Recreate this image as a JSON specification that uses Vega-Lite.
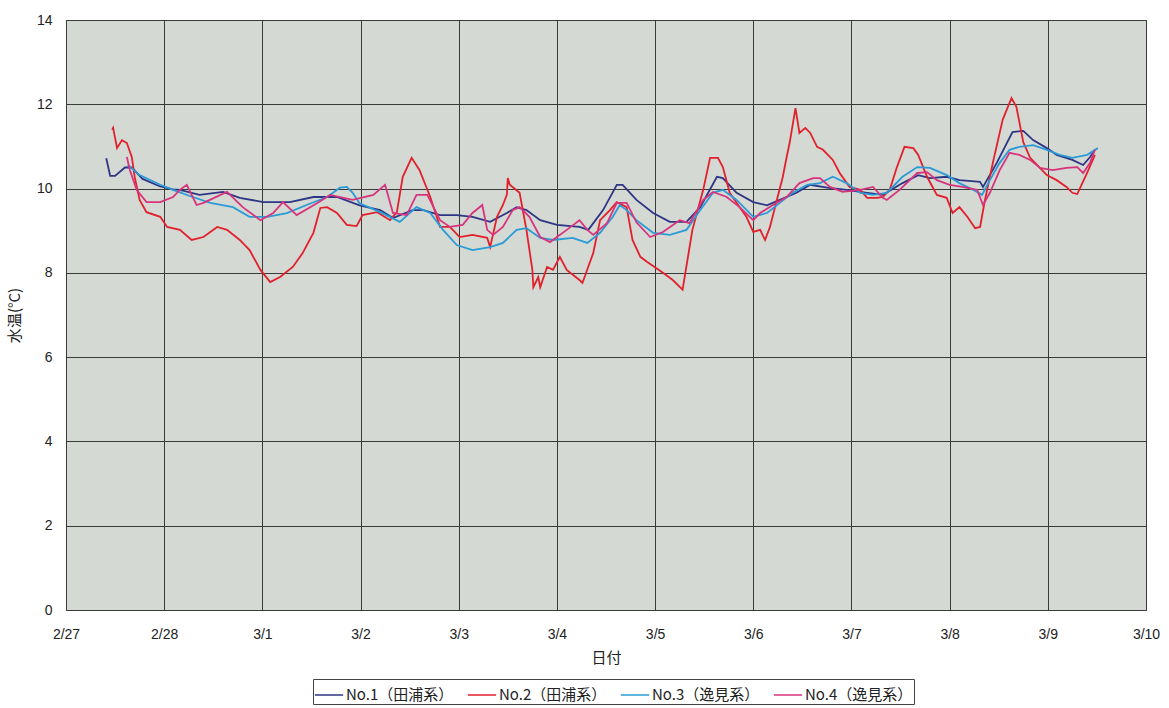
{
  "$schema": "https://vega.github.io/schema/vega-lite/v6.json",
  "width": 1080,
  "height": 590,
  "autosize": {"type": "none"},
  "padding": {"left": 66, "top": 20, "right": 23, "bottom": 98},
  "background": "white",
  "config": {
    "view": {"fill": "#d4d9d3", "stroke": "#333333", "strokeWidth": 1},
    "font": "Liberation Sans",
    "axis": {"labelFont": "Liberation Sans", "titleFont": "Noto Sans CJK JP", "labelFontSize": 14, "titleFontSize": 15, "labelColor": "#222", "titleColor": "#222", "titleFontWeight": "normal", "gridColor": "#3a3a3a", "gridOpacity": 1, "gridWidth": 1, "domain": false, "ticks": false}
  },
  "data": {"values": [
    {"s":"No.1（田浦系）","d":0.41,"v":10.72},{"s":"No.1（田浦系）","d":0.45,"v":10.3},{"s":"No.1（田浦系）","d":0.5,"v":10.3},{"s":"No.1（田浦系）","d":0.6,"v":10.5},{"s":"No.1（田浦系）","d":0.67,"v":10.5},{"s":"No.1（田浦系）","d":0.78,"v":10.23},{"s":"No.1（田浦系）","d":0.96,"v":10.05},{"s":"No.1（田浦系）","d":1.09,"v":9.98},{"s":"No.1（田浦系）","d":1.16,"v":9.97},{"s":"No.1（田浦系）","d":1.36,"v":9.85},{"s":"No.1（田浦系）","d":1.6,"v":9.92},{"s":"No.1（田浦系）","d":1.77,"v":9.78},{"s":"No.1（田浦系）","d":2.01,"v":9.68},{"s":"No.1（田浦系）","d":2.28,"v":9.68},{"s":"No.1（田浦系）","d":2.52,"v":9.8},{"s":"No.1（田浦系）","d":2.76,"v":9.8},{"s":"No.1（田浦系）","d":2.99,"v":9.6},{"s":"No.1（田浦系）","d":3.2,"v":9.49},{"s":"No.1（田浦系）","d":3.33,"v":9.3},{"s":"No.1（田浦系）","d":3.53,"v":9.49},{"s":"No.1（田浦系）","d":3.64,"v":9.49},{"s":"No.1（田浦系）","d":3.81,"v":9.37},{"s":"No.1（田浦系）","d":3.98,"v":9.37},{"s":"No.1（田浦系）","d":4.14,"v":9.33},{"s":"No.1（田浦系）","d":4.32,"v":9.21},{"s":"No.1（田浦系）","d":4.49,"v":9.42},{"s":"No.1（田浦系）","d":4.59,"v":9.56},{"s":"No.1（田浦系）","d":4.69,"v":9.49},{"s":"No.1（田浦系）","d":4.83,"v":9.25},{"s":"No.1（田浦系）","d":5.0,"v":9.14},{"s":"No.1（田浦系）","d":5.23,"v":9.09},{"s":"No.1（田浦系）","d":5.32,"v":9.02},{"s":"No.1（田浦系）","d":5.47,"v":9.49},{"s":"No.1（田浦系）","d":5.61,"v":10.09},{"s":"No.1（田浦系）","d":5.67,"v":10.09},{"s":"No.1（田浦系）","d":5.81,"v":9.73},{"s":"No.1（田浦系）","d":5.98,"v":9.42},{"s":"No.1（田浦系）","d":6.15,"v":9.21},{"s":"No.1（田浦系）","d":6.32,"v":9.21},{"s":"No.1（田浦系）","d":6.46,"v":9.56},{"s":"No.1（田浦系）","d":6.63,"v":10.28},{"s":"No.1（田浦系）","d":6.69,"v":10.25},{"s":"No.1（田浦系）","d":6.83,"v":9.9},{"s":"No.1（田浦系）","d":7.0,"v":9.68},{"s":"No.1（田浦系）","d":7.14,"v":9.6},{"s":"No.1（田浦系）","d":7.27,"v":9.73},{"s":"No.1（田浦系）","d":7.44,"v":9.9},{"s":"No.1（田浦系）","d":7.58,"v":10.09},{"s":"No.1（田浦系）","d":7.75,"v":10.02},{"s":"No.1（田浦系）","d":7.95,"v":9.97},{"s":"No.1（田浦系）","d":8.16,"v":9.9},{"s":"No.1（田浦系）","d":8.32,"v":9.85},{"s":"No.1（田浦系）","d":8.52,"v":10.13},{"s":"No.1（田浦系）","d":8.68,"v":10.32},{"s":"No.1（田浦系）","d":8.8,"v":10.25},{"s":"No.1（田浦系）","d":8.97,"v":10.28},{"s":"No.1（田浦系）","d":9.1,"v":10.2},{"s":"No.1（田浦系）","d":9.31,"v":10.16},{"s":"No.1（田浦系）","d":9.34,"v":10.04},{"s":"No.1（田浦系）","d":9.48,"v":10.61},{"s":"No.1（田浦系）","d":9.64,"v":11.34},{"s":"No.1（田浦系）","d":9.75,"v":11.37},{"s":"No.1（田浦系）","d":9.85,"v":11.15},{"s":"No.1（田浦系）","d":9.99,"v":10.96},{"s":"No.1（田浦系）","d":10.09,"v":10.8},{"s":"No.1（田浦系）","d":10.25,"v":10.68},{"s":"No.1（田浦系）","d":10.36,"v":10.56},{"s":"No.1（田浦系）","d":10.43,"v":10.75},{"s":"No.1（田浦系）","d":10.48,"v":10.92},
    {"s":"No.2（田浦系）","d":0.47,"v":11.39},{"s":"No.2（田浦系）","d":0.48,"v":11.44},{"s":"No.2（田浦系）","d":0.52,"v":10.96},{"s":"No.2（田浦系）","d":0.57,"v":11.15},{"s":"No.2（田浦系）","d":0.62,"v":11.08},{"s":"No.2（田浦系）","d":0.67,"v":10.75},{"s":"No.2（田浦系）","d":0.7,"v":10.27},{"s":"No.2（田浦系）","d":0.75,"v":9.73},{"s":"No.2（田浦系）","d":0.82,"v":9.44},{"s":"No.2（田浦系）","d":0.96,"v":9.33},{"s":"No.2（田浦系）","d":1.03,"v":9.09},{"s":"No.2（田浦系）","d":1.16,"v":9.02},{"s":"No.2（田浦系）","d":1.28,"v":8.78},{"s":"No.2（田浦系）","d":1.4,"v":8.85},{"s":"No.2（田浦系）","d":1.54,"v":9.09},{"s":"No.2（田浦系）","d":1.64,"v":9.02},{"s":"No.2（田浦系）","d":1.77,"v":8.78},{"s":"No.2（田浦系）","d":1.87,"v":8.54},{"s":"No.2（田浦系）","d":1.98,"v":8.07},{"s":"No.2（田浦系）","d":2.08,"v":7.78},{"s":"No.2（田浦系）","d":2.18,"v":7.9},{"s":"No.2（田浦系）","d":2.31,"v":8.14},{"s":"No.2（田浦系）","d":2.41,"v":8.47},{"s":"No.2（田浦系）","d":2.52,"v":8.95},{"s":"No.2（田浦系）","d":2.59,"v":9.54},{"s":"No.2（田浦系）","d":2.66,"v":9.56},{"s":"No.2（田浦系）","d":2.76,"v":9.42},{"s":"No.2（田浦系）","d":2.86,"v":9.14},{"s":"No.2（田浦系）","d":2.96,"v":9.11},{"s":"No.2（田浦系）","d":3.02,"v":9.37},{"s":"No.2（田浦系）","d":3.17,"v":9.44},{"s":"No.2（田浦系）","d":3.3,"v":9.25},{"s":"No.2（田浦系）","d":3.37,"v":9.44},{"s":"No.2（田浦系）","d":3.43,"v":10.28},{"s":"No.2（田浦系）","d":3.52,"v":10.73},{"s":"No.2（田浦系）","d":3.6,"v":10.44},{"s":"No.2（田浦系）","d":3.71,"v":9.8},{"s":"No.2（田浦系）","d":3.81,"v":9.09},{"s":"No.2（田浦系）","d":3.91,"v":9.09},{"s":"No.2（田浦系）","d":4.01,"v":8.85},{"s":"No.2（田浦系）","d":4.14,"v":8.9},{"s":"No.2（田浦系）","d":4.29,"v":8.83},{"s":"No.2（田浦系）","d":4.32,"v":8.61},{"s":"No.2（田浦系）","d":4.39,"v":9.33},{"s":"No.2（田浦系）","d":4.45,"v":9.61},{"s":"No.2（田浦系）","d":4.49,"v":9.85},{"s":"No.2（田浦系）","d":4.5,"v":10.25},{"s":"No.2（田浦系）","d":4.52,"v":10.09},{"s":"No.2（田浦系）","d":4.62,"v":9.9},{"s":"No.2（田浦系）","d":4.69,"v":9.02},{"s":"No.2（田浦系）","d":4.75,"v":8.07},{"s":"No.2（田浦系）","d":4.76,"v":7.66},{"s":"No.2（田浦系）","d":4.81,"v":7.9},{"s":"No.2（田浦系）","d":4.83,"v":7.66},{"s":"No.2（田浦系）","d":4.9,"v":8.14},{"s":"No.2（田浦系）","d":4.96,"v":8.07},{"s":"No.2（田浦系）","d":5.03,"v":8.38},{"s":"No.2（田浦系）","d":5.1,"v":8.07},{"s":"No.2（田浦系）","d":5.23,"v":7.83},{"s":"No.2（田浦系）","d":5.26,"v":7.76},{"s":"No.2（田浦系）","d":5.37,"v":8.47},{"s":"No.2（田浦系）","d":5.44,"v":9.25},{"s":"No.2（田浦系）","d":5.54,"v":9.49},{"s":"No.2（田浦系）","d":5.61,"v":9.68},{"s":"No.2（田浦系）","d":5.71,"v":9.56},{"s":"No.2（田浦系）","d":5.77,"v":8.78},{"s":"No.2（田浦系）","d":5.85,"v":8.38},{"s":"No.2（田浦系）","d":5.92,"v":8.26},{"s":"No.2（田浦系）","d":6.08,"v":8.0},{"s":"No.2（田浦系）","d":6.18,"v":7.83},{"s":"No.2（田浦系）","d":6.28,"v":7.6},{"s":"No.2（田浦系）","d":6.38,"v":9.02},{"s":"No.2（田浦系）","d":6.49,"v":9.97},{"s":"No.2（田浦系）","d":6.56,"v":10.73},{"s":"No.2（田浦系）","d":6.64,"v":10.73},{"s":"No.2（田浦系）","d":6.69,"v":10.51},{"s":"No.2（田浦系）","d":6.76,"v":9.9},{"s":"No.2（田浦系）","d":6.86,"v":9.56},{"s":"No.2（田浦系）","d":6.93,"v":9.33},{"s":"No.2（田浦系）","d":7.0,"v":8.97},{"s":"No.2（田浦系）","d":7.07,"v":9.02},{"s":"No.2（田浦系）","d":7.12,"v":8.78},{"s":"No.2（田浦系）","d":7.17,"v":9.09},{"s":"No.2（田浦系）","d":7.24,"v":9.73},{"s":"No.2（田浦系）","d":7.3,"v":10.27},{"s":"No.2（田浦系）","d":7.34,"v":10.75},{"s":"No.2（田浦系）","d":7.37,"v":11.08},{"s":"No.2（田浦系）","d":7.43,"v":11.91},{"s":"No.2（田浦系）","d":7.47,"v":11.32},{"s":"No.2（田浦系）","d":7.53,"v":11.44},{"s":"No.2（田浦系）","d":7.58,"v":11.32},{"s":"No.2（田浦系）","d":7.65,"v":10.99},{"s":"No.2（田浦系）","d":7.71,"v":10.92},{"s":"No.2（田浦系）","d":7.81,"v":10.68},{"s":"No.2（田浦系）","d":7.88,"v":10.37},{"s":"No.2（田浦系）","d":7.98,"v":10.04},{"s":"No.2（田浦系）","d":8.09,"v":9.97},{"s":"No.2（田浦系）","d":8.16,"v":9.78},{"s":"No.2（田浦系）","d":8.26,"v":9.78},{"s":"No.2（田浦系）","d":8.32,"v":9.8},{"s":"No.2（田浦系）","d":8.39,"v":9.97},{"s":"No.2（田浦系）","d":8.46,"v":10.49},{"s":"No.2（田浦系）","d":8.54,"v":10.99},{"s":"No.2（田浦系）","d":8.63,"v":10.96},{"s":"No.2（田浦系）","d":8.68,"v":10.8},{"s":"No.2（田浦系）","d":8.77,"v":10.28},{"s":"No.2（田浦系）","d":8.87,"v":9.85},{"s":"No.2（田浦系）","d":8.97,"v":9.78},{"s":"No.2（田浦系）","d":9.03,"v":9.42},{"s":"No.2（田浦系）","d":9.1,"v":9.56},{"s":"No.2（田浦系）","d":9.18,"v":9.33},{"s":"No.2（田浦系）","d":9.26,"v":9.06},{"s":"No.2（田浦系）","d":9.31,"v":9.09},{"s":"No.2（田浦系）","d":9.36,"v":9.73},{"s":"No.2（田浦系）","d":9.44,"v":10.61},{"s":"No.2（田浦系）","d":9.54,"v":11.63},{"s":"No.2（田浦系）","d":9.63,"v":12.15},{"s":"No.2（田浦系）","d":9.68,"v":11.94},{"s":"No.2（田浦系）","d":9.75,"v":11.1},{"s":"No.2（田浦系）","d":9.82,"v":10.73},{"s":"No.2（田浦系）","d":9.89,"v":10.56},{"s":"No.2（田浦系）","d":9.99,"v":10.32},{"s":"No.2（田浦系）","d":10.09,"v":10.2},{"s":"No.2（田浦系）","d":10.19,"v":10.04},{"s":"No.2（田浦系）","d":10.25,"v":9.9},{"s":"No.2（田浦系）","d":10.3,"v":9.87},{"s":"No.2（田浦系）","d":10.4,"v":10.37},{"s":"No.2（田浦系）","d":10.48,"v":10.8},
    {"s":"No.3（逸見系）","d":0.63,"v":10.56},{"s":"No.3（逸見系）","d":0.75,"v":10.32},{"s":"No.3（逸見系）","d":0.96,"v":10.09},{"s":"No.3（逸見系）","d":1.09,"v":9.97},{"s":"No.3（逸見系）","d":1.29,"v":9.8},{"s":"No.3（逸見系）","d":1.47,"v":9.66},{"s":"No.3（逸見系）","d":1.7,"v":9.56},{"s":"No.3（逸見系）","d":1.87,"v":9.33},{"s":"No.3（逸見系）","d":2.05,"v":9.33},{"s":"No.3（逸見系）","d":2.25,"v":9.42},{"s":"No.3（逸見系）","d":2.45,"v":9.61},{"s":"No.3（逸見系）","d":2.66,"v":9.8},{"s":"No.3（逸見系）","d":2.79,"v":10.02},{"s":"No.3（逸見系）","d":2.86,"v":10.04},{"s":"No.3（逸見系）","d":2.92,"v":9.9},{"s":"No.3（逸見系）","d":2.99,"v":9.65},{"s":"No.3（逸見系）","d":3.2,"v":9.44},{"s":"No.3（逸見系）","d":3.4,"v":9.21},{"s":"No.3（逸見系）","d":3.57,"v":9.56},{"s":"No.3（逸見系）","d":3.71,"v":9.42},{"s":"No.3（逸見系）","d":3.84,"v":9.02},{"s":"No.3（逸見系）","d":3.98,"v":8.66},{"s":"No.3（逸見系）","d":4.14,"v":8.54},{"s":"No.3（逸見系）","d":4.32,"v":8.61},{"s":"No.3（逸見系）","d":4.45,"v":8.71},{"s":"No.3（逸見系）","d":4.59,"v":9.02},{"s":"No.3（逸見系）","d":4.69,"v":9.06},{"s":"No.3（逸見系）","d":4.83,"v":8.83},{"s":"No.3（逸見系）","d":4.96,"v":8.78},{"s":"No.3（逸見系）","d":5.16,"v":8.83},{"s":"No.3（逸見系）","d":5.31,"v":8.71},{"s":"No.3（逸見系）","d":5.44,"v":8.95},{"s":"No.3（逸見系）","d":5.57,"v":9.33},{"s":"No.3（逸見系）","d":5.64,"v":9.61},{"s":"No.3（逸見系）","d":5.71,"v":9.49},{"s":"No.3（逸見系）","d":5.81,"v":9.25},{"s":"No.3（逸見系）","d":5.98,"v":8.95},{"s":"No.3（逸見系）","d":6.15,"v":8.9},{"s":"No.3（逸見系）","d":6.32,"v":9.02},{"s":"No.3（逸見系）","d":6.46,"v":9.49},{"s":"No.3（逸見系）","d":6.59,"v":9.9},{"s":"No.3（逸見系）","d":6.69,"v":9.97},{"s":"No.3（逸見系）","d":6.83,"v":9.73},{"s":"No.3（逸見系）","d":7.0,"v":9.33},{"s":"No.3（逸見系）","d":7.14,"v":9.42},{"s":"No.3（逸見系）","d":7.27,"v":9.66},{"s":"No.3（逸見系）","d":7.4,"v":9.9},{"s":"No.3（逸見系）","d":7.55,"v":10.09},{"s":"No.3（逸見系）","d":7.68,"v":10.13},{"s":"No.3（逸見系）","d":7.81,"v":10.28},{"s":"No.3（逸見系）","d":7.95,"v":10.13},{"s":"No.3（逸見系）","d":8.09,"v":9.9},{"s":"No.3（逸見系）","d":8.22,"v":9.85},{"s":"No.3（逸見系）","d":8.36,"v":9.9},{"s":"No.3（逸見系）","d":8.52,"v":10.28},{"s":"No.3（逸見系）","d":8.67,"v":10.51},{"s":"No.3（逸見系）","d":8.8,"v":10.49},{"s":"No.3（逸見系）","d":8.97,"v":10.32},{"s":"No.3（逸見系）","d":9.1,"v":10.13},{"s":"No.3（逸見系）","d":9.24,"v":9.97},{"s":"No.3（逸見系）","d":9.33,"v":9.85},{"s":"No.3（逸見系）","d":9.41,"v":10.2},{"s":"No.3（逸見系）","d":9.51,"v":10.61},{"s":"No.3（逸見系）","d":9.61,"v":10.92},{"s":"No.3（逸見系）","d":9.71,"v":10.99},{"s":"No.3（逸見系）","d":9.85,"v":11.03},{"s":"No.3（逸見系）","d":9.99,"v":10.92},{"s":"No.3（逸見系）","d":10.12,"v":10.8},{"s":"No.3（逸見系）","d":10.25,"v":10.73},{"s":"No.3（逸見系）","d":10.4,"v":10.8},{"s":"No.3（逸見系）","d":10.51,"v":10.96},
    {"s":"No.4（逸見系）","d":0.62,"v":10.75},{"s":"No.4（逸見系）","d":0.65,"v":10.44},{"s":"No.4（逸見系）","d":0.72,"v":9.97},{"s":"No.4（逸見系）","d":0.82,"v":9.68},{"s":"No.4（逸見系）","d":0.96,"v":9.68},{"s":"No.4（逸見系）","d":1.09,"v":9.8},{"s":"No.4（逸見系）","d":1.16,"v":9.97},{"s":"No.4（逸見系）","d":1.23,"v":10.09},{"s":"No.4（逸見系）","d":1.33,"v":9.61},{"s":"No.4（逸見系）","d":1.4,"v":9.66},{"s":"No.4（逸見系）","d":1.64,"v":9.92},{"s":"No.4（逸見系）","d":1.8,"v":9.56},{"s":"No.4（逸見系）","d":1.98,"v":9.25},{"s":"No.4（逸見系）","d":2.11,"v":9.42},{"s":"No.4（逸見系）","d":2.21,"v":9.68},{"s":"No.4（逸見系）","d":2.35,"v":9.37},{"s":"No.4（逸見系）","d":2.56,"v":9.66},{"s":"No.4（逸見系）","d":2.69,"v":9.85},{"s":"No.4（逸見系）","d":2.92,"v":9.73},{"s":"No.4（逸見系）","d":3.13,"v":9.85},{"s":"No.4（逸見系）","d":3.25,"v":10.09},{"s":"No.4（逸見系）","d":3.33,"v":9.42},{"s":"No.4（逸見系）","d":3.47,"v":9.37},{"s":"No.4（逸見系）","d":3.57,"v":9.85},{"s":"No.4（逸見系）","d":3.68,"v":9.85},{"s":"No.4（逸見系）","d":3.81,"v":9.25},{"s":"No.4（逸見系）","d":3.91,"v":9.09},{"s":"No.4（逸見系）","d":4.04,"v":9.14},{"s":"No.4（逸見系）","d":4.14,"v":9.42},{"s":"No.4（逸見系）","d":4.24,"v":9.61},{"s":"No.4（逸見系）","d":4.29,"v":9.02},{"s":"No.4（逸見系）","d":4.35,"v":8.9},{"s":"No.4（逸見系）","d":4.45,"v":9.09},{"s":"No.4（逸見系）","d":4.55,"v":9.49},{"s":"No.4（逸見系）","d":4.62,"v":9.56},{"s":"No.4（逸見系）","d":4.72,"v":9.33},{"s":"No.4（逸見系）","d":4.83,"v":8.85},{"s":"No.4（逸見系）","d":4.93,"v":8.73},{"s":"No.4（逸見系）","d":5.1,"v":9.02},{"s":"No.4（逸見系）","d":5.23,"v":9.25},{"s":"No.4（逸見系）","d":5.31,"v":9.02},{"s":"No.4（逸見系）","d":5.37,"v":8.9},{"s":"No.4（逸見系）","d":5.51,"v":9.18},{"s":"No.4（逸見系）","d":5.61,"v":9.66},{"s":"No.4（逸見系）","d":5.71,"v":9.66},{"s":"No.4（逸見系）","d":5.81,"v":9.2},{"s":"No.4（逸見系）","d":5.95,"v":8.85},{"s":"No.4（逸見系）","d":6.08,"v":8.97},{"s":"No.4（逸見系）","d":6.25,"v":9.25},{"s":"No.4（逸見系）","d":6.35,"v":9.18},{"s":"No.4（逸見系）","d":6.49,"v":9.73},{"s":"No.4（逸見系）","d":6.59,"v":9.92},{"s":"No.4（逸見系）","d":6.73,"v":9.8},{"s":"No.4（逸見系）","d":6.86,"v":9.56},{"s":"No.4（逸見系）","d":7.0,"v":9.25},{"s":"No.4（逸見系）","d":7.07,"v":9.42},{"s":"No.4（逸見系）","d":7.2,"v":9.61},{"s":"No.4（逸見系）","d":7.34,"v":9.8},{"s":"No.4（逸見系）","d":7.47,"v":10.13},{"s":"No.4（逸見系）","d":7.61,"v":10.25},{"s":"No.4（逸見系）","d":7.68,"v":10.25},{"s":"No.4（逸見系）","d":7.78,"v":10.04},{"s":"No.4（逸見系）","d":7.91,"v":9.92},{"s":"No.4（逸見系）","d":8.09,"v":9.97},{"s":"No.4（逸見系）","d":8.22,"v":10.04},{"s":"No.4（逸見系）","d":8.32,"v":9.78},{"s":"No.4（逸見系）","d":8.36,"v":9.73},{"s":"No.4（逸見系）","d":8.49,"v":9.97},{"s":"No.4（逸見系）","d":8.67,"v":10.37},{"s":"No.4（逸見系）","d":8.77,"v":10.39},{"s":"No.4（逸見系）","d":8.87,"v":10.2},{"s":"No.4（逸見系）","d":9.0,"v":10.09},{"s":"No.4（逸見系）","d":9.13,"v":10.04},{"s":"No.4（逸見系）","d":9.28,"v":9.97},{"s":"No.4（逸見系）","d":9.34,"v":9.61},{"s":"No.4（逸見系）","d":9.41,"v":9.9},{"s":"No.4（逸見系）","d":9.51,"v":10.44},{"s":"No.4（逸見系）","d":9.61,"v":10.85},{"s":"No.4（逸見系）","d":9.71,"v":10.8},{"s":"No.4（逸見系）","d":9.82,"v":10.68},{"s":"No.4（逸見系）","d":9.92,"v":10.49},{"s":"No.4（逸見系）","d":10.05,"v":10.44},{"s":"No.4（逸見系）","d":10.19,"v":10.49},{"s":"No.4（逸見系）","d":10.3,"v":10.51},{"s":"No.4（逸見系）","d":10.36,"v":10.37},{"s":"No.4（逸見系）","d":10.43,"v":10.61},{"s":"No.4（逸見系）","d":10.48,"v":10.92}
  ]},
  "mark": {"type": "line", "strokeWidth": 1.8, "interpolate": "linear"},
  "encoding": {
    "x": {"field": "d", "type": "quantitative", "title": "日付",
      "scale": {"domain": [0, 11], "nice": false, "zero": false},
      "axis": {"values": [0,1,2,3,4,5,6,7,8,9,10,11], "labelExpr": "['2/27','2/28','3/1','3/2','3/3','3/4','3/5','3/6','3/7','3/8','3/9','3/10'][datum.value]", "labelPadding": 17, "titlePadding": 9, "labelFlush": false}},
    "y": {"field": "v", "type": "quantitative", "title": "水温(°C)",
      "scale": {"domain": [0, 14], "nice": false},
      "axis": {"values": [0,2,4,6,8,10,12,14], "labelPadding": 14, "titlePadding": 14}},
    "color": {"field": "s", "type": "nominal", "title": null,
      "scale": {"domain": ["No.1（田浦系）","No.2（田浦系）","No.3（逸見系）","No.4（逸見系）"], "range": ["#2d3585","#e2202c","#2b9bd6","#d8347e"]},
      "legend": {"orient": "none", "legendX": 247, "legendY": 659, "direction": "horizontal", "symbolType": "stroke", "symbolSize": 800, "symbolStrokeWidth": 1.5, "labelFont": "Noto Sans CJK JP", "labelFontSize": 15, "labelColor": "#222", "strokeColor": "#444", "fillColor": "white", "padding": 1, "columnPadding": 10, "symbolOffset": 0, "labelOffset": 2}},
    "order": {"field": "d", "type": "quantitative"}
  }
}
